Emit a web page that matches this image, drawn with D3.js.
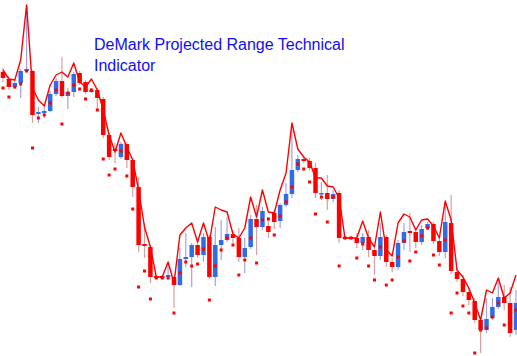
<!DOCTYPE html>
<html>
<head>
<meta charset="utf-8">
<script src="https://cdn.jsdelivr.net/npm/d3@7"></script>
<style>
  html, body { margin: 0; padding: 0; background: #ffffff; }
  #chart { width: 517px; height: 356px; }
</style>
</head>
<body>
<div id="chart"></div>
<script>
// bar data (price units, bottom of the window = 0)
const opens = [284, 277, 269, 273, 285, 285, 242, 243, 245, 262, 275, 260, 264, 283, 274, 264, 266, 257, 221, 207,
  199, 212, 196, 169, 112, 109, 80, 80, 79, 79, 71, 97, 99, 111, 101, 119, 79, 111, 116, 122,
  118, 99, 109, 137, 129, 130, 143, 135, 151, 162, 186, 197, 195, 188, 162, 163, 157, 163, 119, 119,
  118, 113, 119, 106, 100, 119, 94, 89, 113, 125, 124, 114, 128, 132, 115, 104, 133, 84, 77, 64,
  55, 36, 26, 38, 49, 59, 53, 26];
const highs = [288, 280, 276, 287, 351, 286, 249, 249, 265, 278, 299, 268, 284, 285, 276, 268, 268, 259, 223, 213,
  214, 214, 198, 179, 133, 111, 81, 81, 94, 80, 108, 123, 113, 114, 123, 121, 129, 136, 139, 126,
  128, 118, 141, 151, 149, 139, 146, 153, 173, 226, 201, 199, 198, 193, 174, 181, 166, 166, 120, 120,
  123, 123, 126, 108, 133, 121, 98, 116, 133, 143, 128, 131, 134, 134, 118, 155, 161, 88, 81, 68,
  58, 38, 58, 58, 74, 71, 69, 66];
const lows = [274, 266, 267, 258, 284, 233, 233, 238, 244, 260, 258, 247, 259, 271, 262, 263, 246, 218, 196, 193,
  197, 188, 159, 104, 98, 73, 77, 77, 78, 48, 70, 89, 69, 98, 94, 77, 70, 96, 114, 113,
  94, 83, 107, 101, 126, 118, 127, 128, 149, 158, 184, 193, 186, 158, 156, 146, 154, 113, 116, 116,
  108, 106, 99, 81, 96, 89, 84, 86, 106, 104, 108, 111, 126, 112, 100, 98, 82, 74, 60, 51,
  33, 3, 23, 36, 47, 46, 19, 21];
const closes = [278, 269, 273, 285, 287, 241, 244, 245, 262, 275, 260, 264, 282, 273, 264, 266, 258, 221, 199, 205,
  212, 196, 169, 111, 110, 79, 78, 78, 81, 71, 97, 99, 111, 101, 119, 79, 111, 116, 122, 118,
  99, 108, 137, 129, 145, 124, 134, 151, 162, 186, 197, 195, 188, 163, 163, 157, 162, 118, 117, 117,
  113, 119, 106, 100, 119, 94, 89, 113, 124, 123, 114, 127, 132, 115, 104, 134, 85, 77, 64, 56,
  36, 26, 37, 49, 59, 53, 23, 53];

// DeMark projected range
const projectedHigh = [286, 277, 276, 296, 351, 268, 256, 250, 271, 281, 284, 279, 293, 274, 269, 277, 266, 246, 221, 204,
  223, 209, 196, 166, 129, 109, 79, 79, 94, 73, 121, 128, 133, 114, 133, 114, 149, 146, 144, 122,
  118, 128, 159, 139, 166, 144, 143, 166, 183, 233, 207, 199, 194, 178, 178, 170, 169, 158, 118, 118,
  118, 135, 118, 109, 144, 106, 100, 133, 142, 139, 126, 136, 137, 130, 118, 155, 136, 86, 79, 68,
  53, 36, 66, 63, 78, 58, 63, 81];
const projectedLow = [268, 259, 269, 272, 285, 208, 238, 241, 253, 266, 232, 263, 271, 267, 257, 266, 246, 197, 181, 187,
  205, 180, 147, 69, 85, 57, 78, 78, 78, 43, 83, 94, 90, 92, 107, 56, 90, 106, 118, 111,
  81, 96, 118, 93, 136, 137, 121, 140, 154, 169, 192, 187, 174, 142, 159, 134, 159, 90, 118, 118,
  98, 112, 90, 76, 109, 71, 76, 99, 115, 95, 104, 120, 128, 101, 91, 116, 43, 63, 50, 43,
  3, 26, 28, 39, 53, 31, 36, 46];

const titleLines = ['DeMark Projected Range Technical', 'Indicator'];

const width = 517;
const height = 356;

const bars = opens.map((o, i) => ({
  i,
  open: o,
  high: highs[i],
  low: lows[i],
  close: closes[i],
  up: closes[i] >= o,
}));

const svg = d3
  .select('#chart')
  .append('svg')
  .attr('width', width)
  .attr('height', height);

// scales
const xScale = d3.scaleLinear().domain([0, bars.length - 1]).range([3, 516]);
const yScale = d3.scaleLinear().domain([0, 356]).range([height, 0]);

const bodyWidth = 4.5;

// wicks
svg
  .selectAll('.wick')
  .data(bars)
  .enter()
  .append('line')
  .attr('class', 'wick')
  .attr('x1', (d) => xScale(d.i))
  .attr('x2', (d) => xScale(d.i))
  .attr('y1', (d) => yScale(d.high))
  .attr('y2', (d) => yScale(d.low))
  .attr('stroke', (d) => (d.up ? '#a3a3e2' : '#d9a0a0'))
  .attr('stroke-width', 1.2);

// bodies
svg
  .selectAll('.body')
  .data(bars)
  .enter()
  .append('rect')
  .attr('class', 'body')
  .attr('x', (d) => xScale(d.i) - bodyWidth / 2)
  .attr('y', (d) => yScale(Math.max(d.open, d.close)))
  .attr('width', bodyWidth)
  .attr('height', (d) => Math.max(1.5, Math.abs(yScale(d.open) - yScale(d.close))))
  .attr('fill', (d) => (d.up ? '#2f6ce5' : '#ff0000'));

// projected high line
const line = d3
  .line()
  .x((d, i) => xScale(i))
  .y((d) => yScale(d));

svg
  .append('path')
  .datum(projectedHigh)
  .attr('fill', 'none')
  .attr('stroke', '#ff0000')
  .attr('stroke-width', 1.4)
  .attr('stroke-linejoin', 'round')
  .attr('d', line);

// projected low dots
svg
  .selectAll('.dot')
  .data(projectedLow)
  .enter()
  .append('rect')
  .attr('class', 'dot')
  .attr('x', (d, i) => xScale(i) - 1.5)
  .attr('y', (d) => yScale(d) - 1.5)
  .attr('width', 3)
  .attr('height', 3)
  .attr('fill', '#ff0000');

// title
svg
  .selectAll('.title')
  .data(titleLines)
  .enter()
  .append('text')
  .attr('class', 'title')
  .attr('x', 94)
  .attr('y', (d, i) => 50 + i * 21)
  .style('font-family', '"Liberation Sans", Arial, sans-serif')
  .style('font-size', '16px')
  .style('fill', '#0f0ff5')
  .text((d) => d);
</script>
</body>
</html>
